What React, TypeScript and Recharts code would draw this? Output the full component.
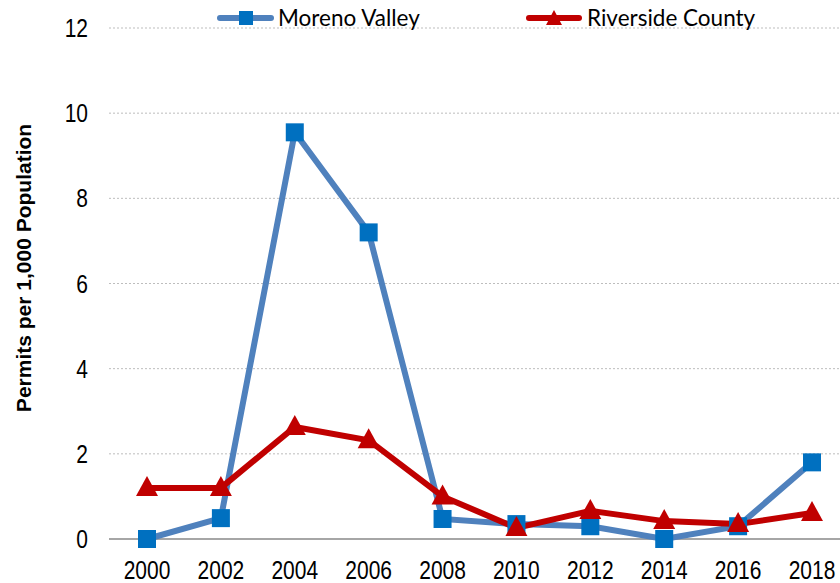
import { LineChart, Line, XAxis, YAxis, CartesianGrid, ReferenceLine } from "recharts";

const years = ["2000", "2002", "2004", "2006", "2008", "2010", "2012", "2014", "2016", "2018"];
const morenoValley = [0, 0.49, 9.55, 7.2, 0.47, 0.35, 0.3, 0.0, 0.3, 1.8];
const riversideCounty = [1.2, 1.2, 2.63, 2.32, 1.0, 0.26, 0.66, 0.42, 0.35, 0.61];
const yTicks = [0, 2, 4, 6, 8, 10, 12];

const data = years.map((year, i) => ({
  year,
  moreno: morenoValley[i],
  riverside: riversideCounty[i],
}));

const BLUE_LINE = "#4F81BD";
const BLUE_MARK = "#0070C0";
const RED = "#C00000";
const NARROW = "Liberation Sans, Arial, sans-serif";

const SquareDot = (props: any) => {
  const { cx, cy } = props;
  if (cx == null || cy == null) return null;
  return <rect x={cx - 9} y={cy - 9} width={18} height={18} fill={BLUE_MARK} />;
};

const TriangleDot = (props: any) => {
  const { cx, cy } = props;
  if (cx == null || cy == null) return null;
  return (
    <polygon
      points={`${cx},${cy - 12} ${cx + 11},${cy + 8} ${cx - 11},${cy + 8}`}
      fill={RED}
    />
  );
};

// condensed tick text, like Arial Narrow
const XTick = (props: any) => {
  const { x, y, payload } = props;
  return (
    <text
      transform={`translate(${x}, ${y + 32}) scale(0.84, 1)`}
      textAnchor="middle"
      fontFamily={NARROW}
      fontSize={25}
      fill="#000"
    >
      {payload.value}
    </text>
  );
};

const YTick = (props: any) => {
  const { x, y, payload } = props;
  return (
    <text
      transform={`translate(${x}, ${y + 9}) scale(0.84, 1)`}
      textAnchor="end"
      fontFamily={NARROW}
      fontSize={25}
      fill="#000"
    >
      {payload.value}
    </text>
  );
};

const YLabel = () => (
  <text
    x={0}
    y={0}
    transform="translate(31, 268) rotate(-90)"
    textAnchor="middle"
    fontFamily="Liberation Sans, Arial, sans-serif"
    fontWeight="bold"
    fontSize={21}
    fill="#000"
  >
    Permits per 1,000 Population
  </text>
);

const legendText = {
  position: "absolute" as const,
  top: 4,
  fontFamily: "Lato, Liberation Sans, sans-serif",
  fontSize: 22.5,
  lineHeight: "normal",
  color: "#000",
  whiteSpace: "nowrap" as const,
};

export default function App() {
  return (
    <div style={{ position: "absolute", left: 0, top: 0, width: 840, height: 583, background: "#fff" }}>
      <LineChart
        width={840}
        height={583}
        data={data}
        margin={{ top: 28, right: 0, bottom: 0, left: 0 }}
      >
        <CartesianGrid vertical={false} stroke="#bdbdbd" strokeDasharray="2 2" />
        <XAxis
          dataKey="year"
          height={44}
          padding={{ left: 38, right: 28 }}
          axisLine={false}
          tickLine={false}
          tick={<XTick />}
          interval={0}
        />
        <YAxis
          width={109}
          domain={[0, 12]}
          ticks={yTicks}
          axisLine={false}
          tickLine={false}
          tick={<YTick />}
          tickMargin={15}
          label={<YLabel />}
        />
        <ReferenceLine y={0} stroke="#a6a6a6" strokeWidth={2} />
        <Line
          type="linear"
          dataKey="moreno"
          stroke={BLUE_LINE}
          strokeWidth={6}
          dot={<SquareDot />}
          activeDot={false}
          isAnimationActive={false}
        />
        <Line
          type="linear"
          dataKey="riverside"
          stroke={RED}
          strokeWidth={6}
          dot={<TriangleDot />}
          activeDot={false}
          isAnimationActive={false}
        />
      </LineChart>
      {/* legend */}
      <svg width={840} height={30} style={{ position: "absolute", left: 0, top: 0 }}>
        <line x1={220} y1={18} x2={271} y2={18} stroke={BLUE_LINE} strokeWidth={6} strokeLinecap="round" />
        <rect x={239} y={11} width={14} height={14} fill={BLUE_MARK} />
        <line x1={529} y1={18} x2={579} y2={18} stroke={RED} strokeWidth={6} strokeLinecap="round" />
        <polygon points="554,10 562,25 546,25" fill={RED} />
      </svg>
      <span style={{ ...legendText, left: 278 }}>Moreno Valley</span>
      <span style={{ ...legendText, left: 587 }}>Riverside County</span>
    </div>
  );
}
